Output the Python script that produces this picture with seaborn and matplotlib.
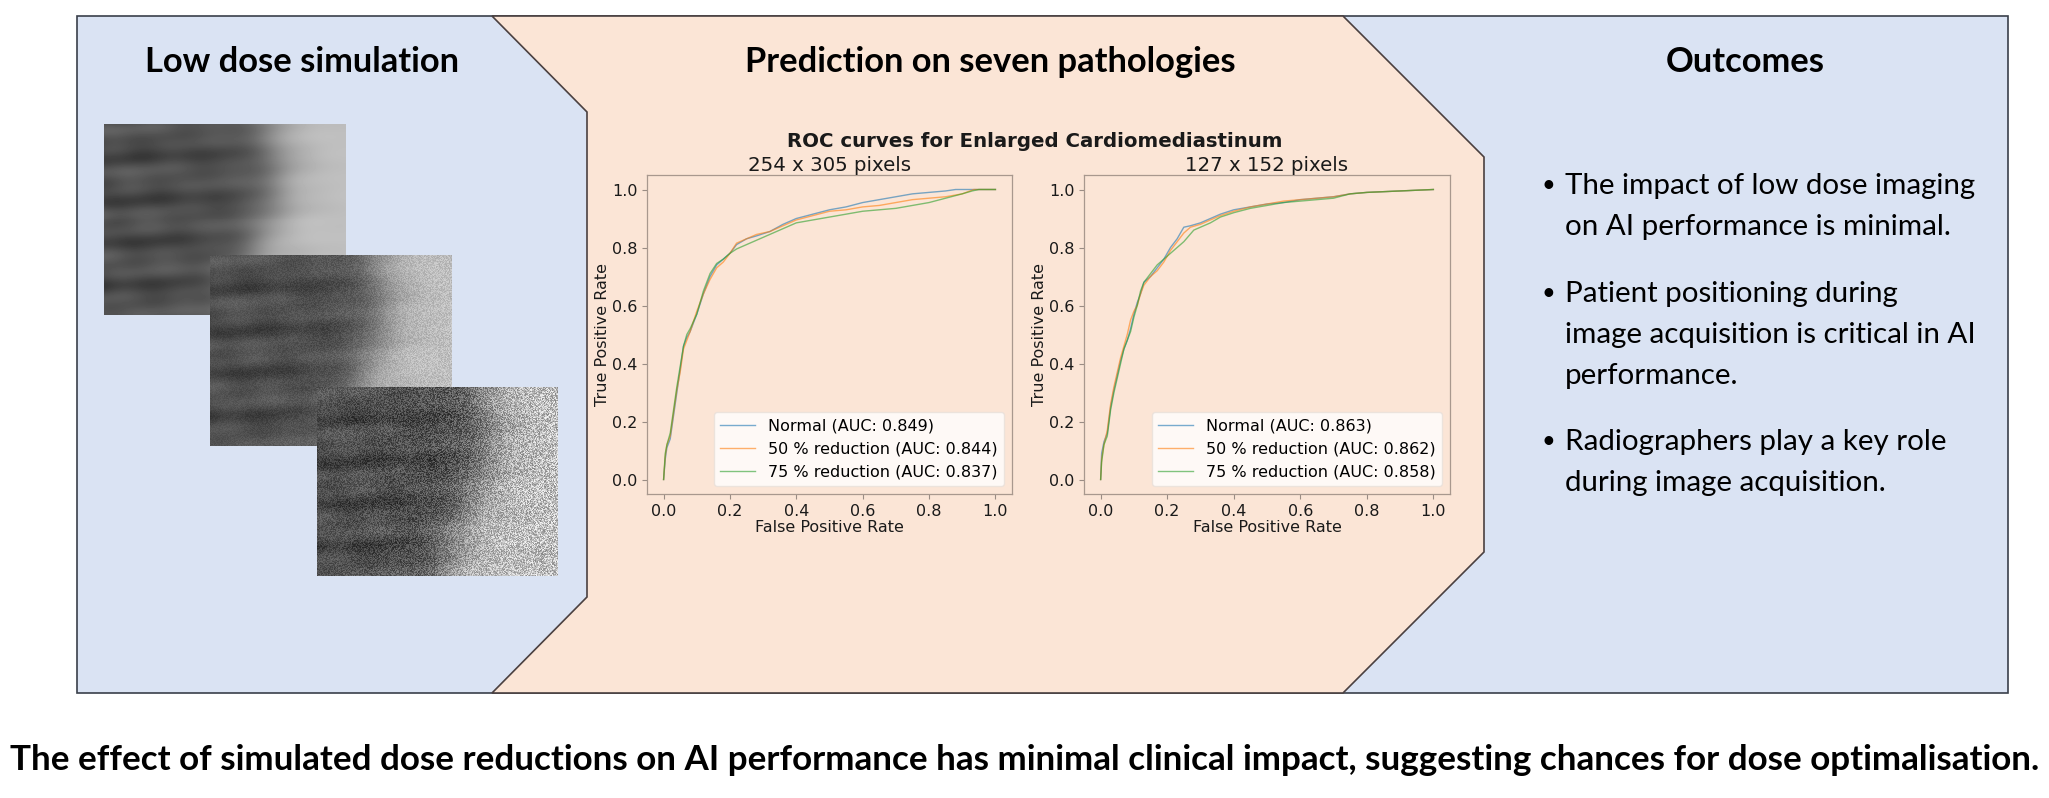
import numpy as np
import matplotlib
matplotlib.use("Agg")
import matplotlib.pyplot as plt
from matplotlib.patches import Polygon, Rectangle
import seaborn as sns

# ---------------------------------------------------
# Data
# ---------------------------------------------------

legend_left = ["Normal (AUC: 0.849)", "50 % reduction (AUC: 0.844)", "75 % reduction (AUC: 0.837)"]
legend_right = ["Normal (AUC: 0.863)", "50 % reduction (AUC: 0.862)", "75 % reduction (AUC: 0.858)"]

# 254 x 305 pixels
fpr_l_normal = [0, 0.005, 0.01, 0.02, 0.03, 0.04, 0.05, 0.06, 0.07, 0.08, 0.10, 0.12, 0.14, 0.16, 0.18,
                0.20, 0.22, 0.25, 0.28, 0.32, 0.36, 0.40, 0.45, 0.50, 0.55, 0.60, 0.65, 0.70, 0.75, 0.80,
                0.85, 0.88, 0.92, 1.0]
tpr_l_normal = [0, 0.07, 0.11, 0.14, 0.22, 0.30, 0.38, 0.46, 0.49, 0.51, 0.57, 0.64, 0.70, 0.74, 0.76,
                0.78, 0.81, 0.83, 0.84, 0.855, 0.88, 0.90, 0.915, 0.93, 0.94, 0.955, 0.965, 0.975, 0.985, 0.99,
                0.995, 1.0, 1.0, 1.0]
fpr_l_50 = [0, 0.005, 0.01, 0.02, 0.03, 0.04, 0.05, 0.06, 0.07, 0.08, 0.10, 0.12, 0.14, 0.16, 0.18,
            0.20, 0.22, 0.25, 0.28, 0.32, 0.36, 0.40, 0.45, 0.50, 0.55, 0.60, 0.65, 0.70, 0.75, 0.80,
            0.85, 0.90, 0.935, 1.0]
tpr_l_50 = [0, 0.08, 0.12, 0.15, 0.23, 0.31, 0.37, 0.45, 0.48, 0.51, 0.58, 0.64, 0.69, 0.73, 0.75,
            0.78, 0.815, 0.83, 0.845, 0.855, 0.875, 0.895, 0.91, 0.925, 0.93, 0.94, 0.945, 0.955, 0.965, 0.97,
            0.975, 0.985, 1.0, 1.0]
fpr_l_75 = [0, 0.005, 0.01, 0.02, 0.03, 0.04, 0.05, 0.06, 0.07, 0.08, 0.10, 0.12, 0.14, 0.16, 0.18,
            0.20, 0.22, 0.25, 0.30, 0.35, 0.40, 0.45, 0.50, 0.55, 0.60, 0.65, 0.70, 0.75, 0.80, 0.85,
            0.90, 0.93, 0.95, 1.0]
tpr_l_75 = [0, 0.09, 0.12, 0.16, 0.24, 0.32, 0.39, 0.46, 0.50, 0.52, 0.57, 0.65, 0.71, 0.745, 0.76,
            0.78, 0.795, 0.81, 0.835, 0.86, 0.885, 0.895, 0.905, 0.915, 0.925, 0.93, 0.935, 0.945, 0.955, 0.97,
            0.985, 0.995, 1.0, 1.0]

# 127 x 152 pixels
fpr_r_normal = [0, 0.003, 0.01, 0.02, 0.03, 0.04, 0.05, 0.06, 0.07, 0.08, 0.09, 0.10, 0.11, 0.12, 0.13,
                0.15, 0.17, 0.19, 0.21, 0.23, 0.25, 0.27, 0.30, 0.33, 0.36, 0.40, 0.45, 0.50, 0.55, 0.60,
                0.70, 0.75, 0.80, 0.90, 1.0]
tpr_r_normal = [0, 0.09, 0.13, 0.16, 0.25, 0.31, 0.36, 0.41, 0.45, 0.48, 0.52, 0.57, 0.61, 0.64, 0.68,
                0.70, 0.73, 0.76, 0.80, 0.83, 0.87, 0.875, 0.885, 0.90, 0.915, 0.93, 0.94, 0.95, 0.955, 0.965,
                0.975, 0.985, 0.99, 0.995, 1.0]
fpr_r_50 = [0, 0.003, 0.01, 0.02, 0.03, 0.04, 0.05, 0.06, 0.07, 0.08, 0.09, 0.10, 0.11, 0.12, 0.13,
            0.15, 0.17, 0.19, 0.21, 0.23, 0.25, 0.27, 0.30, 0.33, 0.36, 0.40, 0.45, 0.50, 0.55, 0.60,
            0.70, 0.75, 0.80, 0.90, 1.0]
tpr_r_50 = [0, 0.07, 0.12, 0.17, 0.26, 0.32, 0.37, 0.42, 0.46, 0.50, 0.55, 0.58, 0.60, 0.64, 0.67,
            0.70, 0.72, 0.75, 0.79, 0.82, 0.85, 0.87, 0.88, 0.895, 0.91, 0.925, 0.94, 0.95, 0.96, 0.965,
            0.975, 0.985, 0.99, 0.995, 1.0]
fpr_r_75 = [0, 0.003, 0.01, 0.02, 0.03, 0.04, 0.05, 0.06, 0.07, 0.08, 0.09, 0.10, 0.11, 0.12, 0.13,
            0.15, 0.17, 0.19, 0.22, 0.25, 0.28, 0.30, 0.33, 0.36, 0.40, 0.45, 0.50, 0.55, 0.60,
            0.70, 0.75, 0.80, 0.90, 1.0]
tpr_r_75 = [0, 0.06, 0.12, 0.15, 0.24, 0.30, 0.35, 0.40, 0.45, 0.48, 0.51, 0.56, 0.60, 0.65, 0.68,
            0.71, 0.74, 0.76, 0.79, 0.82, 0.86, 0.87, 0.885, 0.905, 0.92, 0.935, 0.945, 0.955, 0.96,
            0.97, 0.985, 0.99, 0.995, 1.0]

titles = ["Low dose simulation", "Prediction on seven pathologies", "Outcomes"]
bullets = [
    ["The impact of low dose imaging", "on AI performance is minimal."],
    ["Patient positioning during", "image acquisition is critical in AI", "performance."],
    ["Radiographers play a key role", "during image acquisition."],
]
conclusion = ("The effect of simulated dose reductions on AI performance has minimal clinical impact, "
              "suggesting chances for dose optimalisation.")

# ---------------------------------------------------
# Figure + background canvas in pixel coordinates
# ---------------------------------------------------

W, H = 2049, 798
BLUE = "#dae3f3"
PEACH = "#fbe5d6"
EDGE = "#3a3f4a"

fig = plt.figure(figsize=(W / 100, H / 100), dpi=100)
bg = fig.add_axes([0, 0, 1, 1])
bg.set_xlim(0, W)
bg.set_ylim(H, 0)
bg.axis("off")

bg.add_patch(Rectangle((77, 16), 2008 - 77, 693 - 16, facecolor=BLUE, edgecolor=EDGE, lw=1.2))
peach = [(492, 16), (1343, 16), (1484, 157), (1484, 552), (1343, 693),
         (492, 693), (587, 597), (587, 112)]
bg.add_patch(Polygon(peach, closed=True, facecolor=PEACH, edgecolor="#4a4040", lw=1.2))

# ---------------------------------------------------
# Simulated x-ray crops (decorative texture)
# ---------------------------------------------------

def xray(noise):
    yy, xx = np.mgrid[0:1:192j, 0:1:242j]
    edge = 0.68 + 0.06 * np.sin(yy * 5.0) - 0.08 * yy
    base = 0.30 + 0.45 / (1 + np.exp(-(xx - edge) / 0.06))
    ribs = (0.045 * np.sin(2 * np.pi * (yy * 4.3 - 0.30 * xx ** 2 + 0.1))
            + 0.025 * np.sin(2 * np.pi * (yy * 9.1 + 0.8 * xx)))
    blobs = 0.03 * np.sin(xx * 23.0 + yy * 7.0) * np.sin(yy * 17.0 - xx * 5.0)
    img = base + (ribs + blobs) * (1.1 - xx)
    if noise > 0:
        ii, jj = np.mgrid[0:192, 0:242]
        hsh = np.sin(ii * 12.9898 + jj * 78.233) * 43758.5453
        hsh = hsh - np.floor(hsh) - 0.5
        img = img + noise * hsh * (0.5 + xx)
    return np.clip(img, 0, 1)

boxes = [(104, 346, 124, 315), (210, 452, 255, 446), (317, 558, 387, 576)]
for (x0, x1, y0, y1), nz in zip(boxes, [0.0, 0.10, 0.30]):
    bg.imshow(xray(nz), cmap="gray", vmin=0, vmax=1, extent=(x0, x1, y1, y0),
              aspect="auto", interpolation="nearest", zorder=3)

# ---------------------------------------------------
# Poster text
# ---------------------------------------------------

POSTER_FONT = ["Lato", "DejaVu Sans"]
renderer = fig.canvas.get_renderer()

def fit_text(x, y, s, target_w, fs, **kw):
    t = bg.text(x, y, s, fontsize=fs, family=POSTER_FONT, **kw)
    w = t.get_window_extent(renderer).width
    t.set_fontsize(fs * target_w / w)
    return t

title_fs = 22
t0 = fit_text(302, 72, titles[0], 314, title_fs, ha="center", va="baseline", weight="bold")
title_fs = t0.get_fontsize()
bg.text(990, 72, titles[1], fontsize=title_fs, family=POSTER_FONT, ha="center", va="baseline", weight="bold")
bg.text(1745, 72, titles[2], fontsize=title_fs, family=POSTER_FONT, ha="center", va="baseline", weight="bold")

t1 = fit_text(1565, 194, bullets[0][0], 410, 20, ha="left", va="baseline")
bullet_fs = t1.get_fontsize()
baselines = [[194, 235], [302, 343, 384], [450, 491]]
for lines, ys in zip(bullets, baselines):
    bg.text(1542, ys[0] - 2, "\u2022", fontsize=bullet_fs * 0.8, family=POSTER_FONT, ha="left", va="baseline")
    for k, (line, yb) in enumerate(zip(lines, ys)):
        if lines is bullets[0] and k == 0:
            continue
        bg.text(1565, yb, line, fontsize=bullet_fs, family=POSTER_FONT, ha="left", va="baseline")

fit_text(1025, 770, conclusion, 2028, 22, ha="center", va="baseline", weight="bold")

# ---------------------------------------------------
# ROC curves
# ---------------------------------------------------

def px_axes(x0, x1, y0, y1):
    return fig.add_axes([x0 / W, (H - y1) / H, (x1 - x0) / W, (y1 - y0) / H])

ROC_FS = 11.5
palette = sns.color_palette("tab10", 3)
panels = [
    (px_axes(647, 1012, 175, 494), "254 x 305 pixels", legend_left,
     [(fpr_l_normal, tpr_l_normal), (fpr_l_50, tpr_l_50), (fpr_l_75, tpr_l_75)]),
    (px_axes(1084, 1450, 175, 494), "127 x 152 pixels", legend_right,
     [(fpr_r_normal, tpr_r_normal), (fpr_r_50, tpr_r_50), (fpr_r_75, tpr_r_75)]),
]

for ax, sub, labels, curves in panels:
    ax.set_facecolor("none")
    for (fx, ty), lab, col in zip(curves, labels, palette):
        sns.lineplot(x=fx, y=ty, ax=ax, label=lab, color=col, lw=1.0, alpha=0.6,
                     estimator=None, sort=False)
    ax.set_xlim(-0.05, 1.05)
    ax.set_ylim(-0.05, 1.05)
    ax.set_xticks([0, 0.2, 0.4, 0.6, 0.8, 1.0])
    ax.set_yticks([0, 0.2, 0.4, 0.6, 0.8, 1.0])
    ax.tick_params(labelsize=ROC_FS, color="#9a8c84", labelcolor="#1a1a1a", length=3.5)
    for sp in ax.spines.values():
        sp.set_color("#a8988e")
        sp.set_linewidth(0.9)
    ax.set_xlabel("False Positive Rate", fontsize=ROC_FS, labelpad=1, color="#1a1a1a")
    ax.set_ylabel("True Positive Rate", fontsize=ROC_FS, labelpad=1, color="#1a1a1a")
    ax.set_title(sub, fontsize=14.2, pad=3, color="#1a1a1a")
    leg = ax.legend(loc="lower right", fontsize=ROC_FS, framealpha=0.8, handlelength=2.2)
    leg.get_frame().set_edgecolor("#e8e0da")

bg.text(1035, 147, "ROC curves for Enlarged Cardiomediastinum", fontsize=14.2,
        weight="bold", ha="center", va="baseline", family="DejaVu Sans", color="#1a1a1a")

fig.savefig("out.png", dpi=100)
